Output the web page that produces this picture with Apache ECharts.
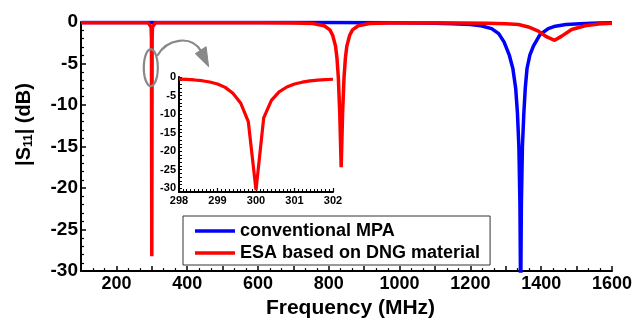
<!DOCTYPE html>
<html>
<head>
<meta charset="utf-8">
<script src="https://cdn.jsdelivr.net/npm/echarts@6/dist/echarts.min.js"></script>
<style>
html,body{margin:0;padding:0;background:#fff;}
#c{width:635px;height:324px;}
</style>
</head>
<body>
<div id="c"></div>
<script>
// ---- data ----
const seriesNames = ['conventional MPA', 'ESA based on DNG material'];

// conventional MPA (blue), frequency in MHz, |S11| in dB
const blueFreq = [100, 800, 1000, 1100, 1150, 1200, 1230, 1260, 1280, 1295, 1310, 1320, 1328, 1333, 1337, 1340, 1342, 1344, 1347, 1351, 1355, 1360, 1368, 1378, 1397, 1420, 1440, 1470, 1510, 1560, 1600];
const blueDb   = [-0.05, -0.06, -0.1, -0.15, -0.2, -0.3, -0.45, -0.8, -1.4, -2.4, -4.0, -5.6, -8, -11, -15, -22, -34, -22, -15, -11, -8, -5.6, -4.0, -2.9, -1.5, -0.8, -0.5, -0.3, -0.2, -0.12, -0.1];

// ESA based on DNG material (red)
const redFreq = [100, 200, 290, 298, 299, 300, 301, 302, 310, 600, 700, 755, 787, 803, 811, 819, 823, 827, 831, 835, 839, 843, 847, 851, 859, 867, 883, 915, 970, 1100, 1250, 1300, 1336, 1364, 1392, 1416, 1438, 1458, 1486, 1524, 1562, 1600];
const redDb   = [-0.1, -0.1, -0.1, -0.6, -1.9, -28.2, -1.9, -0.6, -0.1, -0.1, -0.12, -0.17, -0.45, -0.95, -1.6, -2.9, -4.3, -6.7, -11, -17.5, -11, -6.7, -4.3, -2.9, -1.6, -0.95, -0.45, -0.17, -0.12, -0.1, -0.15, -0.2, -0.3, -0.6, -1.1, -1.8, -2.2, -1.7, -0.9, -0.45, -0.25, -0.15];

// inset: zoom of the 300 MHz resonance
const insetFreq = [298.0, 298.2, 298.4, 298.6, 298.8, 299.0, 299.2, 299.4, 299.6, 299.8, 300.0, 300.2, 300.4, 300.6, 300.8, 301.0, 301.2, 301.4, 301.6, 301.8, 302.0];
const insetDb   = [-0.55, -0.65, -0.8, -1.0, -1.35, -1.9, -2.8, -4.4, -7.0, -12.0, -30.5, -11.0, -6.3, -4.0, -2.7, -1.9, -1.4, -1.05, -0.85, -0.7, -0.6];

const xLabelsMain = [200, 400, 600, 800, 1000, 1200, 1400, 1600];

// ---- chart ----
const FF = '"Liberation Sans", Arial, Helvetica, sans-serif';
const zip = (a, b) => a.map((v, i) => [v, b[i]]);

const chart = echarts.init(document.getElementById('c'), null, {renderer: 'canvas'});

const axisLineStyle = {color: '#000', width: 2};

chart.setOption({
  animation: false,
  backgroundColor: '#fff',
  textStyle: {fontFamily: FF},
  grid: [
    {left: 81, top: 22, right: 22, bottom: 47},
    {left: 179, top: 77, width: 154, height: 115}
  ],
  xAxis: [
    {
      type: 'value', gridIndex: 0, min: 100, max: 1600, interval: 100,
      axisLine: {onZero: false, lineStyle: axisLineStyle},
      axisTick: {inside: true, length: 5, lineStyle: {color: '#000', width: 1.5}},
      minorTick: {show: true, splitNumber: 3, length: 3, lineStyle: {color: '#000', width: 1.2}},
      splitLine: {show: false},
      axisLabel: {
        margin: 4, color: '#000', fontSize: 18, fontWeight: 'bold', fontFamily: FF,
        formatter: v => (xLabelsMain.indexOf(v) >= 0 ? String(v) : '')
      },
      name: 'Frequency (MHz)', nameLocation: 'middle', nameGap: 26,
      nameTextStyle: {fontSize: 21, fontWeight: 'bold', color: '#000', fontFamily: FF, padding: [0, 0, 0, 8]}
    },
    {
      type: 'value', gridIndex: 1, min: 298, max: 302, interval: 1,
      axisLine: {onZero: false, lineStyle: axisLineStyle},
      axisTick: {inside: true, length: 4, lineStyle: {color: '#000', width: 1.2}},
      minorTick: {show: true, splitNumber: 10, length: 3, lineStyle: {color: '#000', width: 1}},
      splitLine: {show: false},
      axisLabel: {margin: 3, color: '#000', fontSize: 11, fontWeight: 'bold', fontFamily: FF}
    }
  ],
  yAxis: [
    {
      type: 'value', gridIndex: 0, min: -30, max: 0, interval: 5,
      axisLine: {onZero: false, lineStyle: axisLineStyle},
      axisTick: {inside: true, length: 5, lineStyle: {color: '#000', width: 1.5}},
      minorTick: {show: true, splitNumber: 5, length: 3, lineStyle: {color: '#000', width: 1.2}},
      splitLine: {show: false},
      axisLabel: {margin: 3, color: '#000', fontSize: 19, fontWeight: 'bold', fontFamily: FF},
      name: '{a||S}{b|11}{a|| (dB)}', nameLocation: 'middle', nameGap: 46, nameRotate: 90,
      nameTextStyle: {
        color: '#000', padding: [0, 0, 0, 44],
        rich: {
          a: {fontSize: 20, fontWeight: 'bold', color: '#000', fontFamily: FF, lineHeight: 22},
          b: {fontSize: 12, fontWeight: 'bold', color: '#000', fontFamily: FF, lineHeight: 12, verticalAlign: 'bottom'}
        }
      }
    },
    {
      type: 'value', gridIndex: 1, min: -31, max: 0, interval: 1,
      axisLine: {onZero: false, lineStyle: axisLineStyle},
      axisTick: {inside: true, length: 3, lineStyle: {color: '#000', width: 1}},
      splitLine: {show: false},
      axisLabel: {
        margin: 3, color: '#000', fontSize: 11, fontWeight: 'bold', fontFamily: FF,
        formatter: v => (v % 5 === 0 ? String(v) : '')
      }
    }
  ],
  legend: {
    orient: 'vertical', left: 183, top: 216,
    data: seriesNames, selectedMode: false,
    icon: 'rect',
    itemWidth: 40, itemHeight: 3.5, itemGap: 4, itemTextGap: 7,
    padding: [6, 10, 3, 12],
    borderColor: '#333', borderWidth: 1, backgroundColor: '#fff',
    textStyle: {fontSize: 18, fontWeight: 'bold', color: '#000', fontFamily: FF, lineHeight: 18}
  },
  series: [
    {
      name: seriesNames[0], type: 'line', xAxisIndex: 0, yAxisIndex: 0,
      data: zip(blueFreq, blueDb), showSymbol: false, symbol: 'none',
      lineStyle: {color: '#0000ff', width: 3.5}, itemStyle: {color: '#0000ff'}
    },
    {
      name: seriesNames[1], type: 'line', xAxisIndex: 0, yAxisIndex: 0,
      data: zip(redFreq, redDb), showSymbol: false, symbol: 'none',
      lineStyle: {color: '#ff0000', width: 3.5}, itemStyle: {color: '#ff0000'}
    },
    {
      name: 'inset', type: 'line', xAxisIndex: 1, yAxisIndex: 1,
      data: zip(insetFreq, insetDb), showSymbol: false, symbol: 'none',
      lineStyle: {color: '#ff0000', width: 3.2}, itemStyle: {color: '#ff0000'}
    }
  ]
});

// annotation: ellipse around the 300 MHz dip and arrow pointing to the inset
const c = chart.convertToPixel({gridIndex: 0}, [300, -5.5]);
const cx = c[0] - 1, cy = c[1];
const grey = '#888888';
const rx = 7, ry = 18.5;
const ell = [];
for (let k = 0; k < 48; k++) {
  const t = k / 48 * Math.PI * 2;
  ell.push([cx + rx * Math.cos(t), cy + ry * Math.sin(t)]);
}
chart.setOption({
  graphic: [
    {type: 'polygon', shape: {points: ell},
     style: {fill: 'none', stroke: grey, lineWidth: 2.2}, z: 100},
    {type: 'bezierCurve', shape: {
      x1: cx + 6.5, y1: cy - 12,
      cpx1: cx + 16, cpy1: cy - 29,
      cpx2: cx + 40, cpy2: cy - 33,
      x2: cx + 50, y2: cy - 17},
     style: {fill: 'none', stroke: grey, lineWidth: 2.2}, z: 100},
    {type: 'polygon', shape: {points: [[cx + 57.8, cy - 1], [cx + 44.5, cy - 14], [cx + 55.3, cy - 21]]},
     style: {fill: grey, stroke: grey, lineWidth: 1}, z: 100}
  ]
});
</script>
</body>
</html>
